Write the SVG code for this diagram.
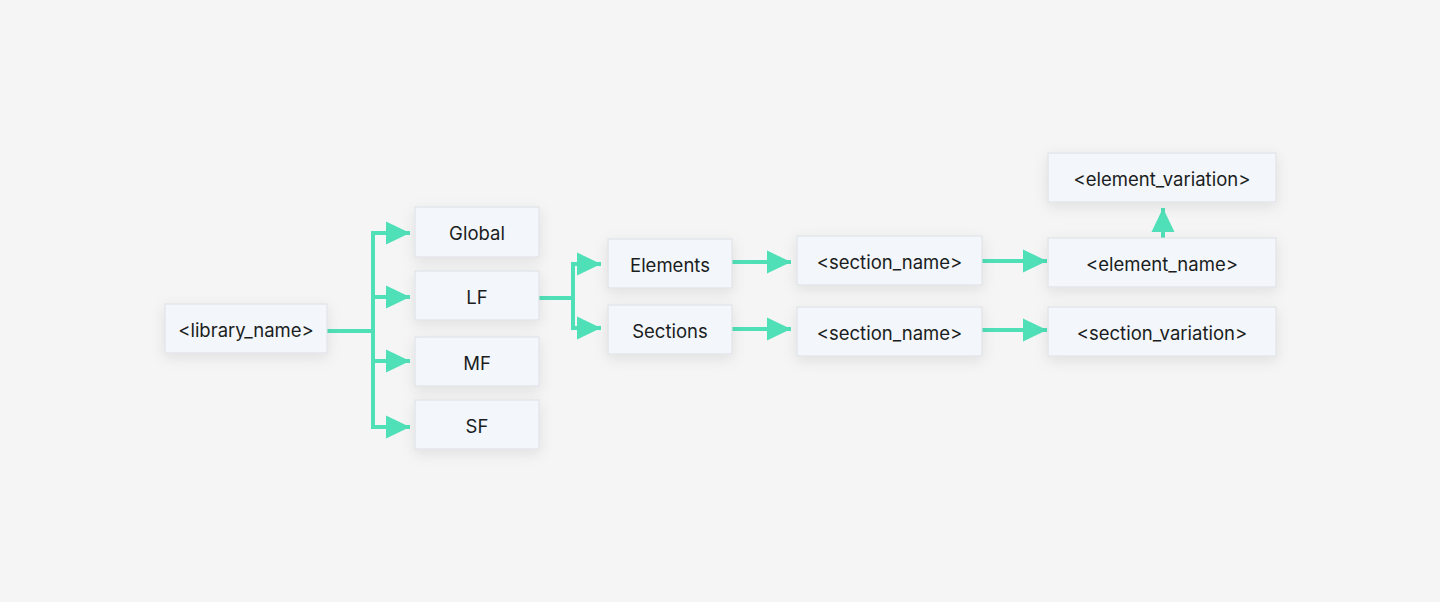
<svg xmlns="http://www.w3.org/2000/svg" width="1440" height="602" viewBox="0 0 1440 602">
  <defs>
    <filter id="sh" x="-30%" y="-50%" width="160%" height="220%">
      <feDropShadow dx="0" dy="4" stdDeviation="7" flood-color="#000" flood-opacity="0.09"/>
    </filter>
    <marker id="ah" markerUnits="userSpaceOnUse" markerWidth="24" markerHeight="24" viewBox="0 0 24 24" refX="24" refY="12" orient="auto">
      <path d="M0,0.5 L24,12 L0,23.5 z" fill="#50E0B8"/>
    </marker>
    <style>
      .box { fill: #F3F6FA; stroke: #DCDFE4; stroke-width: 1; filter: url(#sh); }
      .lbl { font-family: Inter, "Liberation Sans", sans-serif; font-size: 18.5px; fill: #1A1D21; text-anchor: middle; }
      .c { fill: none; stroke: #50E0B8; stroke-width: 4; }
      .a { marker-end: url(#ah); }
    </style>
  </defs>
  <rect width="1440" height="602" fill="#F5F5F5"/>

  <g id="connectors">
    <path class="c" d="M327,331 H373"/>
    <path class="c" d="M373,231 V429"/>
    <path class="c a" d="M371,233 H410"/>
    <path class="c a" d="M373,297 H410"/>
    <path class="c a" d="M373,361 H410"/>
    <path class="c a" d="M371,427 H410"/>
    <path class="c" d="M539,298 H573"/>
    <path class="c" d="M573,262 V330"/>
    <path class="c a" d="M571,264 H601"/>
    <path class="c a" d="M571,328 H601"/>
    <path class="c a" d="M732,262 H791"/>
    <path class="c a" d="M732,329 H791"/>
    <path class="c a" d="M982,261 H1047"/>
    <path class="c a" d="M982,330 H1047"/>
    <path class="c a" d="M1163,238 V208"/>
  </g>

  <g id="library_name"><rect class="box" x="165" y="304" width="162" height="49"/><text class="lbl" x="246" y="337">&lt;library_name&gt;</text></g>
  <g id="global"><rect class="box" x="415" y="207" width="124" height="50"/><text class="lbl" x="477" y="240">Global</text></g>
  <g id="lf"><rect class="box" x="415" y="271" width="124" height="49"/><text class="lbl" x="477" y="303.5">LF</text></g>
  <g id="mf"><rect class="box" x="415" y="337" width="124" height="49"/><text class="lbl" x="477" y="369.5">MF</text></g>
  <g id="sf"><rect class="box" x="415" y="400" width="124" height="49"/><text class="lbl" x="477" y="432.5">SF</text></g>
  <g id="elements"><rect class="box" x="608" y="239" width="124" height="49"/><text class="lbl" x="670" y="271.5">Elements</text></g>
  <g id="sections"><rect class="box" x="608" y="305" width="124" height="49"/><text class="lbl" x="670" y="337.5">Sections</text></g>
  <g id="section_name_1"><rect class="box" x="797" y="236" width="185" height="49"/><text class="lbl" x="889.5" y="268.5">&lt;section_name&gt;</text></g>
  <g id="section_name_2"><rect class="box" x="797" y="307" width="185" height="49"/><text class="lbl" x="889.5" y="339.5">&lt;section_name&gt;</text></g>
  <g id="element_variation"><rect class="box" x="1048" y="153" width="228" height="49"/><text class="lbl" x="1162" y="185.5">&lt;element_variation&gt;</text></g>
  <g id="element_name"><rect class="box" x="1048" y="238" width="228" height="49"/><text class="lbl" x="1162" y="270.5">&lt;element_name&gt;</text></g>
  <g id="section_variation"><rect class="box" x="1048" y="307" width="228" height="49"/><text class="lbl" x="1162" y="339.5">&lt;section_variation&gt;</text></g>
</svg>
